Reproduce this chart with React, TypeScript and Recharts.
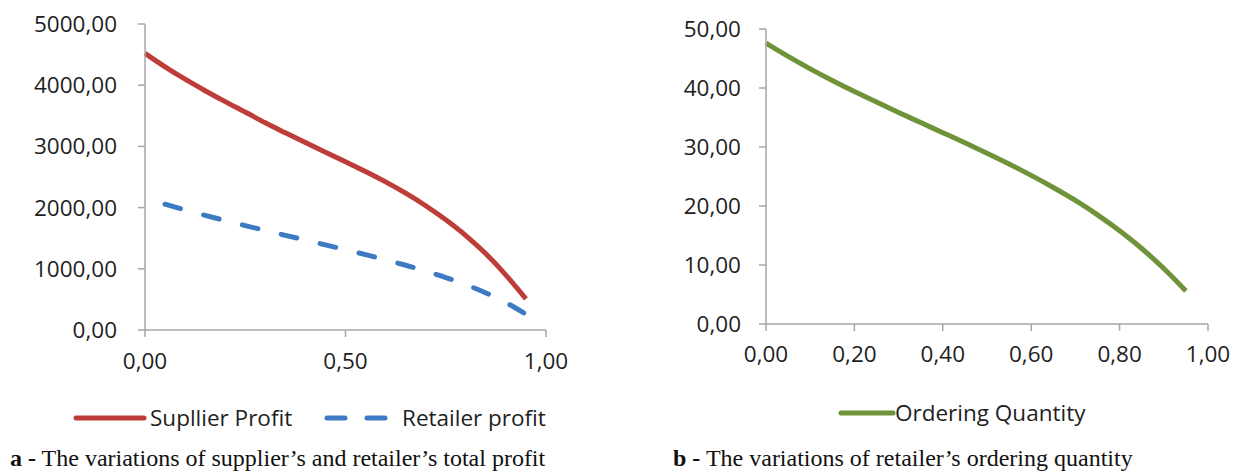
import { LineChart, Line, XAxis, YAxis, Legend } from "recharts";

// x values (shared by both panels)
const xValues = [0, 0.05, 0.1, 0.15, 0.2, 0.25, 0.3, 0.35, 0.4, 0.45, 0.5, 0.55, 0.6, 0.65, 0.7, 0.75, 0.8, 0.85, 0.9, 0.95];

const supplierProfit = [4520, 4300, 4098, 3910, 3732, 3562, 3385, 3222, 3062, 2905, 2748, 2590, 2420, 2235, 2030, 1800, 1543, 1245, 898, 510];
const retailerProfit = [null, 2055, 1962, 1873, 1788, 1706, 1626, 1547, 1469, 1391, 1312, 1231, 1147, 1058, 962, 857, 740, 606, 448, 258];
const orderingQuantity = [47.6, 45.35, 43.25, 41.28, 39.41, 37.61, 35.86, 34.14, 32.43, 30.71, 28.95, 27.12, 25.19, 23.14, 20.94, 18.5, 15.8, 12.8, 9.4, 5.6];

const leftXTicks = [0, 0.5, 1];
const leftYTicks = [0, 1000, 2000, 3000, 4000, 5000];
const rightXTicks = [0, 0.2, 0.4, 0.6, 0.8, 1];
const rightYTicks = [0, 10, 20, 30, 40, 50];

const profitData = xValues.map((x, i) => ({
  x,
  supplier: supplierProfit[i],
  retailer: retailerProfit[i],
}));

const quantityData = xValues.map((x, i) => ({ x, quantity: orderingQuantity[i] }));

const RED = "#BE3D38";
const BLUE = "#3C7BC4";
const GREEN = "#6F9339";
const AXIS = "#A6A6A6";
const FONT = "'Open Sans', sans-serif";
const FS = 22.5;

const comma = (v: number) => v.toFixed(2).replace(".", ",");

const tickStyle = { fontSize: FS, fill: "#1e1e1e", fontFamily: FONT };

function ProfitLegend() {
  return (
    <div style={{ position: "relative", height: 30, fontFamily: FONT, fontSize: FS, color: "#1e1e1e" }}>
      <svg width={560} height={30} style={{ position: "absolute", left: 0, top: 0 }}>
        <line x1={3} y1={15} x2={71} y2={15} stroke={RED} strokeWidth={5} strokeLinecap="round" />
        <line x1={254} y1={15} x2={272} y2={15} stroke={BLUE} strokeWidth={5} strokeLinecap="round" />
        <line x1={294} y1={15} x2={312} y2={15} stroke={BLUE} strokeWidth={5} strokeLinecap="round" />
      </svg>
      <span style={{ position: "absolute", left: 77, top: -1, whiteSpace: "nowrap" }}>Supllier Profit</span>
      <span style={{ position: "absolute", left: 329, top: -1, whiteSpace: "nowrap" }}>Retailer profit</span>
    </div>
  );
}

function QuantityLegend() {
  return (
    <div style={{ position: "relative", height: 30, fontFamily: FONT, fontSize: FS, color: "#1e1e1e" }}>
      <svg width={60} height={30} style={{ position: "absolute", left: 0, top: 0 }}>
        <line x1={3} y1={15} x2={55} y2={15} stroke={GREEN} strokeWidth={5} strokeLinecap="round" />
      </svg>
      <span style={{ position: "absolute", left: 57, top: -1, whiteSpace: "nowrap" }}>Ordering Quantity</span>
    </div>
  );
}

const captionStyle: React.CSSProperties = {
  position: "absolute",
  top: 445,
  fontFamily: "'Liberation Serif', 'Times New Roman', serif",
  fontSize: 24,
  lineHeight: "27px",
  color: "#111",
  whiteSpace: "nowrap",
};

export default function App() {
  return (
    <div style={{ position: "absolute", left: 0, top: 0, width: 1240, height: 472, background: "#fff" }}>
      <div style={{ position: "absolute", left: 0, top: 0 }}>
        <LineChart width={620} height={440} data={profitData} margin={{ top: 24, right: 74, left: 45, bottom: 60 }}>
          <XAxis
            dataKey="x"
            type="number"
            domain={[0, 1]}
            ticks={leftXTicks}
            tickFormatter={comma}
            stroke={AXIS}
            strokeWidth={1.5}
            tickSize={7}
            tickMargin={16}
            tick={tickStyle}
            height={50}
          />
          <YAxis
            type="number"
            domain={[0, 5000]}
            ticks={leftYTicks}
            tickFormatter={comma}
            stroke={AXIS}
            strokeWidth={1.5}
            tickSize={7}
            tickMargin={21}
            tick={tickStyle}
            width={100}
          />
          <Legend
            layout="horizontal"
            verticalAlign="middle"
            align="center"
            content={() => <ProfitLegend />}
            wrapperStyle={{ top: 403, left: 73, width: 540 }}
          />
          <Line
            dataKey="supplier"
            type="monotone"
            stroke={RED}
            strokeWidth={5}
            dot={false}
            isAnimationActive={false}
          />
          <Line
            dataKey="retailer"
            type="monotone"
            stroke={BLUE}
            strokeWidth={5}
            strokeDasharray="16 24"
            strokeLinecap="round"
            dot={false}
            isAnimationActive={false}
          />
        </LineChart>
      </div>
      <div style={{ position: "absolute", left: 620, top: 0 }}>
        <LineChart width={620} height={440} data={quantityData} margin={{ top: 29, right: 32, left: 46, bottom: 66 }}>
          <XAxis
            dataKey="x"
            type="number"
            domain={[0, 1]}
            ticks={rightXTicks}
            tickFormatter={comma}
            stroke={AXIS}
            strokeWidth={1.5}
            tickSize={7}
            tickMargin={15}
            tick={tickStyle}
            height={50}
          />
          <YAxis
            type="number"
            domain={[0, 50]}
            ticks={rightYTicks}
            tickFormatter={comma}
            stroke={AXIS}
            strokeWidth={1.5}
            tickSize={7}
            tickMargin={18}
            tick={tickStyle}
            width={100}
          />
          <Legend
            layout="horizontal"
            verticalAlign="middle"
            align="center"
            content={() => <QuantityLegend />}
            wrapperStyle={{ top: 398, left: 218, width: 300 }}
          />
          <Line
            dataKey="quantity"
            type="monotone"
            stroke={GREEN}
            strokeWidth={5}
            dot={false}
            isAnimationActive={false}
          />
        </LineChart>
      </div>
      <div style={{ ...captionStyle, left: 10 }}>
        <b>a -</b> The variations of supplier’s and retailer’s total profit
      </div>
      <div style={{ ...captionStyle, left: 673 }}>
        <b>b -</b> The variations of retailer’s ordering quantity
      </div>
    </div>
  );
}
